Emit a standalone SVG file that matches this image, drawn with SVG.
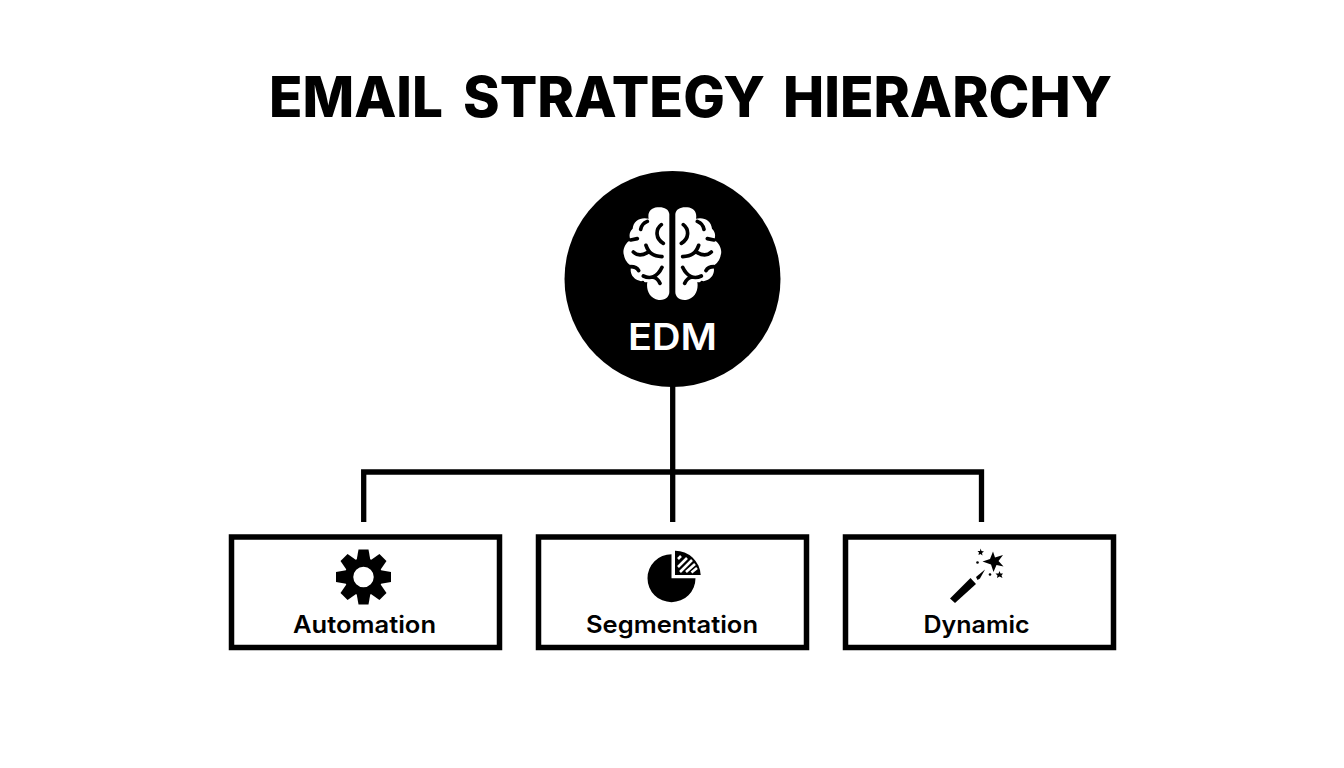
<svg xmlns="http://www.w3.org/2000/svg" width="1344" height="768" viewBox="0 0 1344 768">
<style>
.t{font-family:Inter,"Liberation Sans",sans-serif;font-weight:700;fill:#000;text-anchor:middle}
.lbl{font-weight:600}
.title{font-weight:800;text-anchor:start}
.box{fill:#fff;stroke:#000;stroke-width:5.5}
.conn{fill:none;stroke:#000;stroke-width:5.300}
.crease{fill:none;stroke:#000;stroke-width:11;stroke-linecap:round;stroke-linejoin:round}
</style>
<defs>
<g id="lobe">
<path fill="#fff" d="M208 72C206 56 190 50 172 52C152 54 142 68 146 86C122 80 100 92 98 116C88 124 86 140 92 150C76 158 66 180 72 196C74 210 84 222 94 228C88 246 96 262 112 270C124 274 132 278 142 276C138 300 148 326 176 330C198 332 208 318 208 306Z"/>
<path class="crease" d="M184 104C166 118 166 146 190 160M122 118C124 106 132 98 142 94M92 150L112 146M100 186C112 198 128 196 142 188M138 166C146 190 160 198 186 200M92 230C102 230 112 234 116 242M130 258C150 268 172 262 186 232M160 262C170 264 176 272 180 280M128 278L134 294"/>
</g>
<path id="tooth" d="M-5 -27.500H5L7 -16H-7Z"/>
</defs>
<rect width="1344" height="768" fill="#fff"/>
<text class="t title" y="117.300" font-size="56"><tspan x="269" textLength="174" lengthAdjust="spacingAndGlyphs">EMAIL</tspan> <tspan x="463" textLength="302" lengthAdjust="spacingAndGlyphs">STRATEGY</tspan> <tspan x="783" textLength="329" lengthAdjust="spacingAndGlyphs">HIERARCHY</tspan></text>
<g id="connectors">
<path class="conn" d="M672.700 385V522M363.700 522V472H981.500V522"/>
</g>
<g id="node-edm">
<circle cx="672.500" cy="279" r="108" fill="#000"/>
<g transform="translate(600 190) scale(.3333)">
<use href="#lobe"/>
<use href="#lobe" transform="translate(434 0) scale(-1 1)"/>
</g>
<text class="t lbl" x="672.500" y="350" font-size="37" style="fill:#fff" textLength="89" lengthAdjust="spacingAndGlyphs">EDM</text>
</g>
<g id="node-automation">
<rect class="box" x="231.500" y="537" width="268" height="110.500"/>
<g transform="translate(363.500 577)">
<use href="#tooth"/><use href="#tooth" transform="rotate(45)"/><use href="#tooth" transform="rotate(90)"/><use href="#tooth" transform="rotate(135)"/><use href="#tooth" transform="rotate(180)"/><use href="#tooth" transform="rotate(225)"/><use href="#tooth" transform="rotate(270)"/><use href="#tooth" transform="rotate(315)"/>
<circle r="14.500" fill="none" stroke="#000" stroke-width="8.500"/>
</g>
<text class="t lbl" x="364.500" y="633" font-size="24" textLength="143" lengthAdjust="spacingAndGlyphs">Automation</text>
</g>
<g id="node-segmentation">
<rect class="box" x="538.500" y="537" width="268" height="110.500"/>
<path d="M671.500 554.200A24 24 0 1 0 695.500 578.200H671.500Z"/>
<path d="M675 550.700A25.500 25.500 0 0 1 700.700 575H675Z"/>
<path fill="none" stroke="#fff" stroke-width="2.600" d="M678 559L681 556M678 567L687 558M680 572L692 560M686 572L695 564M691.500 572.500L697 568"/>
<text class="t lbl" x="672" y="633" font-size="24" textLength="172" lengthAdjust="spacingAndGlyphs">Segmentation</text>
</g>
<g id="node-dynamic">
<rect class="box" x="845.500" y="537" width="268" height="110.500"/>
<path d="M950 598.500L970.500 578L976 584L955 603Z"/>
<path d="M976 577L985 569.500L980 578.500L977.500 580Z"/>
<path d="M993 551.500L995 557.500L1003 555L998.500 561L1003.500 566.500L996.500 565L993.500 572L991 564.500L982.500 561.500L990 559Z"/>
<path d="M999.500 571L1000.500 573.500L1003 573.500L1001.500 575.500L1002.500 578L999.500 576.500L997 578L997.500 575.500L995.500 573.500L998.500 573.500Z"/>
<path d="M980.500 548.500L981.500 551L984 551.500L982 553L982.500 555.500L980.500 554L978.500 555L979 552.500L977.500 551L980 551Z"/>
<circle cx="977.500" cy="562.500" r="1.300"/>
<circle cx="990" cy="574.500" r="1.300"/>
<text class="t lbl" x="976.500" y="633" font-size="24" textLength="106" lengthAdjust="spacingAndGlyphs">Dynamic</text>
</g>
</svg>
